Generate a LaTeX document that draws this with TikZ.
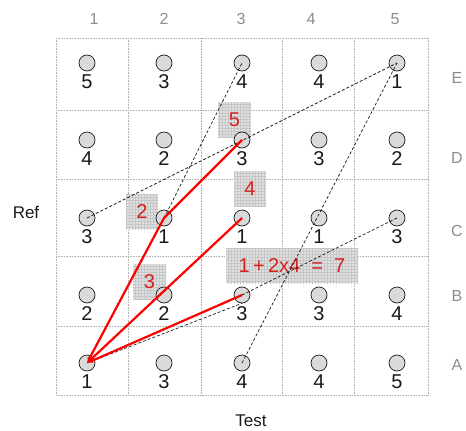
\documentclass[tikz,border=0pt]{standalone}
\usepackage{fontspec}
\setmainfont{Liberation Sans}
\usetikzlibrary{patterns,arrows.meta}
\definecolor{labred}{HTML}{D42020}
\definecolor{axisgray}{HTML}{8C8C8C}
\definecolor{dotfill}{HTML}{DADADA}
\definecolor{boxfill}{HTML}{E0E0E0}
\definecolor{boxgrid}{HTML}{C6C6C6}
\definecolor{inkblack}{HTML}{1A1A1A}
\begin{document}
\begin{tikzpicture}[x=1pt,y=-1pt,
  gridline/.style={draw=gray!60,line width=0.6pt,densely dotted},
  dot/.style={circle,draw=inkblack,fill=dotfill,line width=0.7pt,minimum size=16pt,inner sep=0pt},
  num/.style={text=inkblack,font=\fontsize{20}{24}\selectfont,inner sep=0pt},
  axislab/.style={text=axisgray,font=\fontsize{16}{19}\selectfont,inner sep=0pt},
  titlelab/.style={text=inkblack,font=\fontsize{17}{20}\selectfont,inner sep=0pt},
  costbox/.style={preaction={fill=boxfill},pattern=grid,pattern color=boxgrid,
    text=labred,font=\fontsize{20}{24}\selectfont,inner sep=0pt,minimum height=35pt},
  dashline/.style={draw=inkblack,line width=0.7pt,dash pattern=on 3pt off 2pt},
  redline/.style={draw=red,line width=2.2pt,-{Latex[length=6pt,width=5pt]}}
]
\useasboundingbox (0,0) rectangle (466,431);
% grid
\foreach \x in {56,128,201,282,354,428} \draw[gridline] (\x,38) -- (\x,395);
\foreach \y in {38,110,179,256,326,395} \draw[gridline] (56,\y) -- (428,\y);
% cost boxes
\node[costbox,minimum width=33pt] (b5) at (234.5,119.5) {5};
\node[costbox,minimum width=32pt] (b4) at (250,188.5) {4};
\node[costbox,minimum width=32pt] (b2) at (142,211.5) {2};
\node[costbox,minimum width=33pt] (b3) at (149.5,281.5) {3};
\node[costbox,minimum width=132pt] (bsum) at (292,265.5) {1\,+\,2x4\ \ =\ \ 7};
% cells
\foreach \c/\x/\v in {1/87/5,2/164/3,3/242/4,4/319/4,5/397/1}
  {\node[dot] (cE\c) at (\x,63) {}; \node[num] (nE\c) at (\x,82) {\v};}
\foreach \c/\x/\v in {1/87/4,2/164/2,3/242/3,4/319/3,5/397/2}
  {\node[dot] (cD\c) at (\x,140) {}; \node[num] (nD\c) at (\x,159) {\v};}
\foreach \c/\x/\v in {1/87/3,2/164/1,3/242/1,4/319/1,5/397/3}
  {\node[dot] (cC\c) at (\x,218) {}; \node[num] (nC\c) at (\x,237) {\v};}
\foreach \c/\x/\v in {1/87/2,2/164/2,3/242/3,4/319/3,5/397/4}
  {\node[dot] (cB\c) at (\x,295) {}; \node[num] (nB\c) at (\x,314) {\v};}
\foreach \c/\x/\v in {1/87/1,2/164/3,3/242/4,4/319/4,5/397/5}
  {\node[dot] (cA\c) at (\x,363) {}; \node[num] (nA\c) at (\x,382) {\v};}
% dashed connectors
\draw[dashline] (cC1.center) -- (cE5.center);
\draw[dashline] (cC2.center) -- (cE3.center);
\draw[dashline] (cA3.center) -- (cE5.center);
\draw[dashline] (cB3.center) -- (cC5.center);
\draw[dashline] (cA1.center) -- (cB3.south);
% red paths
\draw[redline] (cD3.center) -- (cC2.center) -- (cA1.center);
\draw[redline] (cC3.center) -- (cA1.center);
\draw[redline] (cB3.center) -- (cA1.center);
% axis labels
\foreach \c/\x in {1/94,2/164,3/241,4/311,5/395}
  \node[axislab] (col\c) at (\x,19) {\c};
\foreach \r/\y in {E/78,D/158,C/231,B/296,A/365}
  \node[axislab] (row\r) at (457,\y) {\r};
\node[titlelab] (ref) at (26,212) {Ref};
\node[titlelab] (test) at (251,421) {Test};
\end{tikzpicture}
\end{document}
